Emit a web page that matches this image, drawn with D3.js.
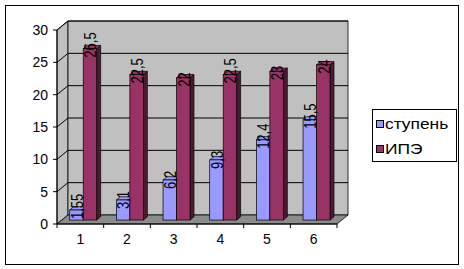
<!DOCTYPE html>
<html><head><meta charset="utf-8">
<script src="https://cdn.jsdelivr.net/npm/d3@7"></script>
<style>body{margin:0;background:#fff}svg{display:block}text{font-family:"Liberation Sans",Arial,sans-serif}</style>
</head><body>
<svg id="c" width="464" height="269"></svg>
<script>
const categories = ["1","2","3","4","5","6"];
const seriesNames = ["ступень","ИПЭ"];
const stupen = [1.55, 3.1, 6.2, 9.3, 12.4, 15.5];
const ipe = [26.5, 22.5, 22, 22.5, 23, 24];
const yTicks = [0,5,10,15,20,25,30];
const colors = {front:["#9999FF","#993366"], side:["#4D4D80","#4D1A33"], top:["#9999FF","#993366"]};

const svg = d3.select("#c");
const X0 = 57, X1 = 337, Y0 = 224, Y1 = 30, DX = 11, DY = -9;
const y = d3.scaleLinear().domain([0,30]).range([Y0,Y1]);
const x0 = d3.scaleBand().domain(categories).range([X0,X1]);
const x1 = d3.scaleBand().domain(seriesNames).range([0,x0.bandwidth()]).paddingOuter(0.73).paddingInner(0).align(0.4);

// frame
svg.append("rect").attr("x",5.5).attr("y",5.5).attr("width",453).attr("height",259).attr("fill","#fff").attr("stroke","#000");

const wall = "#C0C0C0";
svg.append("polygon").attr("points",[[X0,Y1],[X0+DX,Y1+DY],[X0+DX,Y0+DY],[X0,Y0]].join(" ")).attr("fill",wall).attr("stroke","#000").attr("stroke-width",0.8);
svg.append("polygon").attr("points",[[X0+DX,Y1+DY],[X1+DX,Y1+DY],[X1+DX,Y0+DY],[X0+DX,Y0+DY]].join(" ")).attr("fill",wall).attr("stroke","#000").attr("stroke-width",0.8);
svg.append("polygon").attr("points",[[X0,Y0],[X1,Y0],[X1+DX,Y0+DY],[X0+DX,Y0+DY]].join(" ")).attr("fill","#8C8C8C").attr("stroke","#000").attr("stroke-width",0.8);

yTicks.forEach(t=>{
  if(t===0) return;
  svg.append("polyline").attr("points",[[X0,y(t)],[X0+DX,y(t)+DY],[X1+DX,y(t)+DY]].join(" ")).attr("fill","none").attr("stroke","#000").attr("stroke-width",1);
});

svg.append("line").attr("x1",X0).attr("x2",X0).attr("y1",Y1).attr("y2",Y0).attr("stroke","#000");
yTicks.forEach(t=>{
  svg.append("line").attr("x1",X0-4).attr("x2",X0).attr("y1",y(t)).attr("y2",y(t)).attr("stroke","#000");
  svg.append("text").attr("x",48).attr("y",y(t)).attr("dy","0.36em").attr("text-anchor","end").attr("font-size",14).text(t);
});
svg.append("line").attr("x1",X0).attr("x2",X1).attr("y1",Y0).attr("y2",Y0).attr("stroke","#000");
const bounds = categories.map(c=>x0(c)).concat([X1]);
bounds.forEach(b=>svg.append("line").attr("x1",b).attr("x2",b).attr("y1",Y0).attr("y2",Y0+4).attr("stroke","#000"));
categories.forEach(c=>{
  svg.append("text").attr("x",x0(c)+x0.bandwidth()/2).attr("y",244).attr("text-anchor","middle").attr("font-size",14).text(c);
});

const fFront = 0.44, fDepth = 0.36;
const sx = DX*fFront, sy = DY*fFront, ddx = DX*fDepth, ddy = DY*fDepth;
const fmt = v => String(v).replace(".",",");
const data = [stupen, ipe];
categories.forEach((c,i)=>{
  seriesNames.forEach((s,k)=>{
    const v = data[k][i];
    const xl = x0(c)+x1(s)+sx, w = x1.bandwidth();
    const yt = y(v)+sy, yb = y(0)+sy;
    const g = svg.append("g");
    g.append("polygon").attr("points",[[xl+w,yt],[xl+w+ddx,yt+ddy],[xl+w+ddx,yb+ddy],[xl+w,yb]].join(" ")).attr("fill",colors.side[k]).attr("stroke","#000").attr("stroke-width",0.7);
    g.append("polygon").attr("points",[[xl,yt],[xl+w,yt],[xl+w+ddx,yt+ddy],[xl+ddx,yt+ddy]].join(" ")).attr("fill",colors.top[k]).attr("stroke","#000").attr("stroke-width",0.7);
    g.append("rect").attr("x",xl).attr("y",yt).attr("width",w).attr("height",yb-yt).attr("fill",colors.front[k]).attr("stroke","#000").attr("stroke-width",0.7);
  });
});
categories.forEach((c,i)=>{
  seriesNames.forEach((s,k)=>{
    const v = data[k][i];
    const cx = x0(c)+x1(s)+sx+x1.bandwidth()/2+0.5;
    const ty = y(v)+sy+9;
    svg.append("text").attr("transform",`translate(${cx},${ty}) scale(1.25,1) rotate(-90)`).attr("dy","0.36em").attr("text-anchor","start").attr("font-size",13).text(fmt(v));
  });
});

svg.append("rect").attr("x",372.5).attr("y",109.5).attr("width",84).attr("height",52).attr("fill","#fff").attr("stroke","#000");
seriesNames.forEach((s,k)=>{
  const yy = 120+k*25;
  svg.append("rect").attr("x",376.5).attr("y",yy+0.5).attr("width",7).attr("height",7).attr("fill",colors.front[k]).attr("stroke","#000");
  svg.append("text").attr("transform",`translate(385,${yy+8.5}) scale(1.2,1)`).attr("font-size",14.5).text(s);
});
</script>
</body></html>
